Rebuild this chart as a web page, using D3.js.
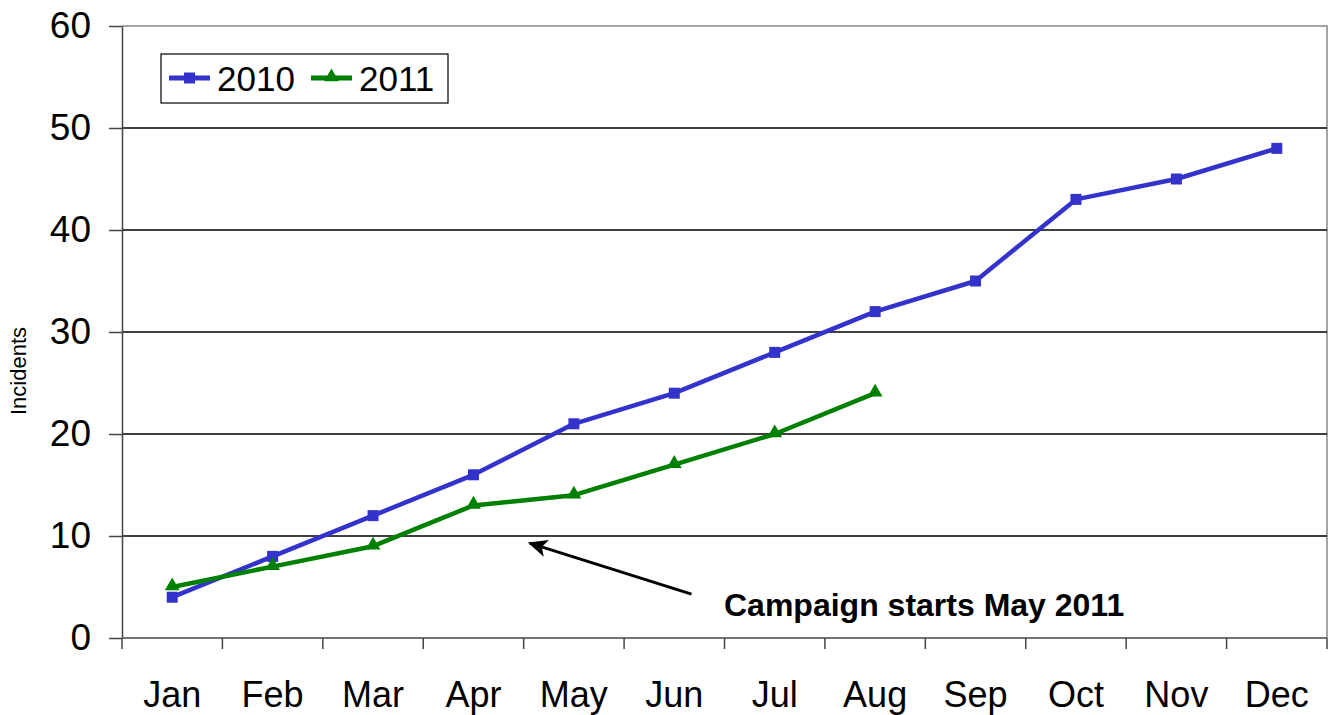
<!DOCTYPE html>
<html>
<head>
<meta charset="utf-8">
<script src="https://cdn.jsdelivr.net/npm/d3@7"></script>
<style>
  html, body { margin: 0; padding: 0; background: #fff; }
  svg { display: block; font-family: "Liberation Sans", Arial, sans-serif; }
</style>
</head>
<body>
<svg id="chart" width="1330" height="715"></svg>
<script>
// Monthly cumulative incident counts
const months = ["Jan","Feb","Mar","Apr","May","Jun","Jul","Aug","Sep","Oct","Nov","Dec"];
const values2010 = [4, 8, 12, 16, 21, 24, 28, 32, 35, 43, 45, 48];
const values2011 = [5, 7, 9, 13, 14, 17, 20, 24];
const yTicks = [0, 10, 20, 30, 40, 50, 60];
const seriesNames = ["2010", "2011"];
const seriesColors = ["#3333CC", "#008000"];
const noteText = "Campaign starts May 2011";

const svg = d3.select("#chart");
const margin = { left: 122, right: 3, top: 26, bottom: 77 };
const W = 1330, H = 715;

const x = d3.scaleBand().domain(months).range([margin.left, W - margin.right]);
const y = d3.scaleLinear().domain([0, 60]).range([H - margin.bottom, margin.top]);

// plot frame (top and right edges)
svg.append("path")
  .attr("d", `M${margin.left},${y(60)}H${W - margin.right}V${y(0)}`)
  .attr("fill", "none").attr("stroke", "#888").attr("stroke-width", 1.5);

// horizontal gridlines
svg.append("g").selectAll("line")
  .data(yTicks.filter(d => d > 0 && d < 60))
  .join("line")
  .attr("x1", margin.left).attr("x2", W - margin.right)
  .attr("y1", d => y(d)).attr("y2", d => y(d))
  .attr("stroke", "#000").attr("stroke-width", 1.5);

// y axis
const yAxis = svg.append("g")
  .attr("transform", `translate(${margin.left},0)`)
  .call(d3.axisLeft(y).tickValues(yTicks).tickSize(13).tickPadding(18).tickSizeOuter(0));
yAxis.select(".domain").attr("stroke", "#444").attr("stroke-width", 1.5);
yAxis.selectAll(".tick line").attr("stroke", "#444").attr("stroke-width", 1.5);
yAxis.selectAll("text").attr("font-size", 37).attr("fill", "#000")
  .attr("font-family", "Liberation Sans, Arial, sans-serif");

// x axis with ticks between categories
const xAxis = svg.append("g")
  .attr("transform", `translate(0,${y(0)})`);
xAxis.append("line")
  .attr("x1", margin.left).attr("x2", W - margin.right)
  .attr("y1", 0).attr("y2", 0)
  .attr("stroke", "#444").attr("stroke-width", 1.5);
const boundaries = months.map(m => x(m)).concat([x(months[months.length - 1]) + x.bandwidth()]);
xAxis.selectAll("line.tk").data(boundaries).join("line")
  .attr("class", "tk")
  .attr("x1", d => d).attr("x2", d => d)
  .attr("y1", 0).attr("y2", 11)
  .attr("stroke", "#444").attr("stroke-width", 1.5);
xAxis.selectAll("text").data(months).join("text")
  .attr("x", d => x(d) + x.bandwidth() / 2)
  .attr("y", 69)
  .attr("text-anchor", "middle")
  .attr("font-size", 36)
  .text(d => d);

// y axis title
svg.append("text")
  .attr("transform", `translate(26,${y(30) + 39}) rotate(-90)`)
  .attr("text-anchor", "middle")
  .attr("font-size", 22)
  .text("Incidents");

const cx = m => x(m) + x.bandwidth() / 2;
const series = [values2010, values2011];

const line = d3.line().x((d, i) => cx(months[i])).y(d => y(d));

const triangle = d3.symbol().type(d3.symbolTriangle).size(95);
const square = 11;

series.forEach((vals, si) => {
  svg.append("path")
    .datum(vals)
    .attr("d", line)
    .attr("fill", "none")
    .attr("stroke", seriesColors[si])
    .attr("stroke-width", 4.5)
    .attr("stroke-linejoin", "round");
  const g = svg.append("g").attr("fill", seriesColors[si]);
  if (si === 0) {
    g.selectAll("rect").data(vals).join("rect")
      .attr("x", (d, i) => cx(months[i]) - square / 2)
      .attr("y", d => y(d) - square / 2)
      .attr("width", square).attr("height", square);
  } else {
    g.selectAll("path").data(vals).join("path")
      .attr("d", triangle)
      .attr("transform", (d, i) => `translate(${cx(months[i])},${y(d) - 1})`);
  }
});

// legend
const lg = svg.append("g").attr("transform", "translate(161,54)");
lg.append("rect").attr("width", 287).attr("height", 49)
  .attr("fill", "#fff").attr("stroke", "#000").attr("stroke-width", 1.2);
const legendX = [8, 150];
seriesNames.forEach((name, i) => {
  const g = lg.append("g").attr("transform", `translate(${legendX[i]},24)`);
  g.append("line").attr("x1", 0).attr("x2", 41).attr("y1", 0).attr("y2", 0)
    .attr("stroke", seriesColors[i]).attr("stroke-width", 5);
  if (i === 0) {
    g.append("rect").attr("x", 15).attr("y", -5.5).attr("width", 11).attr("height", 11)
      .attr("fill", seriesColors[i]);
  } else {
    g.append("path").attr("d", triangle).attr("transform", "translate(20.5,-1)")
      .attr("fill", seriesColors[i]);
  }
  g.append("text").attr("x", 48).attr("y", 13)
    .attr("font-size", 35).text(name);
});

// annotation arrow
svg.append("defs").append("marker")
  .attr("id", "arrowhead")
  .attr("viewBox", "0 0 10 10")
  .attr("refX", 9).attr("refY", 5)
  .attr("markerWidth", 6.5).attr("markerHeight", 6.5)
  .attr("orient", "auto")
  .append("path").attr("d", "M0,0.5L10,5L0,9.5L2.5,5Z").attr("fill", "#000");

svg.append("line")
  .attr("x1", x("Jul") - 33).attr("y1", y(4.3))
  .attr("x2", x("May") + 6).attr("y2", y(9.3))
  .attr("stroke", "#000").attr("stroke-width", 3)
  .attr("marker-end", "url(#arrowhead)");

svg.append("text")
  .attr("x", 724).attr("y", 616)
  .attr("font-size", 32).attr("font-weight", "bold")
  .text(noteText);
</script>
</body>
</html>
